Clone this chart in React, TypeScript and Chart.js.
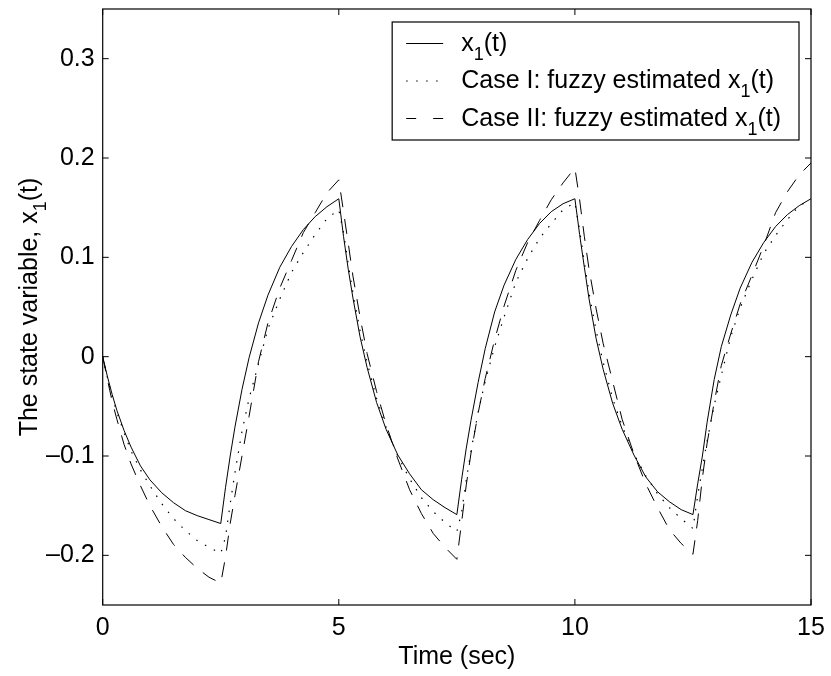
import React, { useEffect, useRef } from 'react';
import { Chart, registerables } from 'chart.js';

Chart.register(...registerables);

// Time samples (sec)
const time = [
  0, 0.1, 0.2, 0.3, 0.45, 0.6, 0.8, 1, 1.25, 1.5, 1.75, 2, 2.25,
  2.5, 2.6, 2.7, 2.8, 2.95, 3.1, 3.3, 3.5, 3.75, 4, 4.25, 4.5, 4.75,
  5, 5.1, 5.2, 5.3, 5.45, 5.6, 5.8, 6, 6.25, 6.5, 6.75, 7, 7.25,
  7.5, 7.6, 7.7, 7.8, 7.95, 8.1, 8.3, 8.5, 8.75, 9, 9.25, 9.5, 9.75,
  10, 10.1, 10.2, 10.3, 10.45, 10.6, 10.8, 11, 11.25, 11.5, 11.75, 12, 12.25,
  12.5, 12.6, 12.7, 12.8, 12.95, 13.1, 13.3, 13.5, 13.75, 14, 14.25, 14.5, 14.75,
  15,
];

// x1(t) actual state
const x1Actual = [
  0, -0.020, -0.038, -0.054, -0.074, -0.091, -0.110, -0.124, -0.137, -0.147, -0.155, -0.160, -0.164,
  -0.168, -0.132, -0.100, -0.071, -0.033, -0.001, 0.034, 0.062, 0.090, 0.111, 0.128, 0.141, 0.151,
  0.159, 0.121, 0.088, 0.059, 0.020, -0.011, -0.046, -0.073, -0.099, -0.118, -0.134, -0.144, -0.152,
  -0.159, -0.124, -0.092, -0.064, -0.026, 0.008, 0.045, 0.072, 0.098, 0.118, 0.134, 0.146, 0.154,
  0.159, 0.123, 0.090, 0.058, 0.018, -0.013, -0.047, -0.073, -0.099, -0.121, -0.136, -0.146, -0.154,
  -0.159, -0.128, -0.100, -0.066, -0.023, 0.010, 0.042, 0.069, 0.095, 0.115, 0.131, 0.143, 0.152,
  0.159,
];

// Case I: fuzzy estimated x1(t)
const x1CaseI = [
  0, -0.021, -0.040, -0.056, -0.076, -0.095, -0.114, -0.130, -0.148, -0.163, -0.175, -0.185, -0.192,
  -0.198, -0.182, -0.148, -0.117, -0.075, -0.042, -0.007, 0.028, 0.058, 0.085, 0.105, 0.123, 0.139,
  0.148, 0.125, 0.093, 0.064, 0.026, -0.006, -0.042, -0.071, -0.100, -0.123, -0.142, -0.156, -0.167,
  -0.176, -0.157, -0.124, -0.095, -0.056, -0.025, 0.010, 0.040, 0.075, 0.099, 0.119, 0.134, 0.148,
  0.155, 0.127, 0.095, 0.064, 0.026, -0.006, -0.042, -0.070, -0.098, -0.120, -0.138, -0.152, -0.163,
  -0.173, -0.140, -0.112, -0.085, -0.049, -0.019, 0.020, 0.049, 0.078, 0.104, 0.122, 0.138, 0.152,
  0.158,
];

// Case II: fuzzy estimated x1(t)
const x1CaseII = [
  0, -0.023, -0.045, -0.063, -0.088, -0.108, -0.130, -0.150, -0.171, -0.189, -0.202, -0.213, -0.222,
  -0.228, -0.202, -0.168, -0.140, -0.100, -0.060, -0.005, 0.034, 0.069, 0.097, 0.125, 0.145, 0.165,
  0.178, 0.146, 0.114, 0.081, 0.040, 0.003, -0.035, -0.068, -0.103, -0.134, -0.158, -0.178, -0.192,
  -0.204, -0.167, -0.129, -0.097, -0.057, -0.022, 0.017, 0.051, 0.087, 0.115, 0.137, 0.158, 0.175,
  0.190, 0.158, 0.121, 0.088, 0.048, 0.013, -0.025, -0.063, -0.098, -0.128, -0.152, -0.174, -0.188,
  -0.199, -0.165, -0.122, -0.087, -0.046, -0.009, 0.023, 0.053, 0.082, 0.112, 0.145, 0.166, 0.183,
  0.195,
];

const xTickValues = [0, 5, 10, 15];
const yTickValues = [-0.2, -0.1, 0, 0.1, 0.2, 0.3];
const seriesLabels = ['x_1(t)', 'Case I: fuzzy estimated x_1(t)', 'Case II: fuzzy estimated x_1(t)'];
const xTitle = 'Time (sec)';
const yTitle = 'The state variable, x_1(t)';

const FONT_FAMILY = "'Liberation Sans', Arial, Helvetica, sans-serif";
const MAIN_SIZE = 25;
const SUB_SIZE = 18;
const SUB_DROP = 9;

type Part = { text: string; sub: boolean };

function richParts(s: string): Part[] {
  const parts: Part[] = [];
  const re = /_(\w)/g;
  let last = 0;
  let m: RegExpExecArray | null;
  while ((m = re.exec(s))) {
    if (m.index > last) parts.push({ text: s.slice(last, m.index), sub: false });
    parts.push({ text: m[1], sub: true });
    last = re.lastIndex;
  }
  if (last < s.length) parts.push({ text: s.slice(last), sub: false });
  return parts;
}

function setFont(ctx: CanvasRenderingContext2D, sub: boolean) {
  ctx.font = `${sub ? SUB_SIZE : MAIN_SIZE}px ${FONT_FAMILY}`;
}

function measureRich(ctx: CanvasRenderingContext2D, s: string): number {
  let w = 0;
  for (const p of richParts(s)) {
    setFont(ctx, p.sub);
    w += ctx.measureText(p.text).width;
  }
  return w;
}

function drawRich(ctx: CanvasRenderingContext2D, s: string, x: number, y: number) {
  let cx = x;
  ctx.textAlign = 'left';
  ctx.textBaseline = 'alphabetic';
  for (const p of richParts(s)) {
    setFont(ctx, p.sub);
    ctx.fillText(p.text, cx, p.sub ? y + SUB_DROP : y);
    cx += ctx.measureText(p.text).width;
  }
}

const legendDashes: number[][] = [[], [1.5, 8.5], [10, 17]];

const matlabFrame = {
  id: 'matlabFrame',
  afterDatasetsDraw(chart: any) {
    const { ctx, chartArea: a, scales } = chart;
    const xs = scales.x;
    const ys = scales.y;
    ctx.save();
    ctx.fillStyle = '#000';
    ctx.strokeStyle = '#000';
    ctx.setLineDash([]);

    // axes box
    ctx.lineWidth = 1.2;
    ctx.strokeRect(a.left, a.top, a.right - a.left, a.bottom - a.top);

    // inward ticks on all four sides
    const tl = 6;
    ctx.lineWidth = 1;
    ctx.beginPath();
    xTickValues.forEach((v) => {
      const p = xs.getPixelForValue(v);
      ctx.moveTo(p, a.bottom);
      ctx.lineTo(p, a.bottom - tl);
      ctx.moveTo(p, a.top);
      ctx.lineTo(p, a.top + tl);
    });
    yTickValues.forEach((v) => {
      const p = ys.getPixelForValue(v);
      ctx.moveTo(a.left, p);
      ctx.lineTo(a.left + tl, p);
      ctx.moveTo(a.right, p);
      ctx.lineTo(a.right - tl, p);
    });
    ctx.stroke();

    // legend
    const padL = 14;
    const sampleLen = 37;
    const gap = 18;
    const padR = 18;
    const maxW = Math.max(...seriesLabels.map((s) => measureRich(ctx, s)));
    const boxW = padL + sampleLen + gap + maxW + padR;
    const boxRight = a.right - 12;
    const boxLeft = boxRight - boxW;
    const boxTop = a.top + 13;
    const rowH = 37.5;
    const boxH = 118;
    ctx.fillStyle = '#fff';
    ctx.fillRect(boxLeft, boxTop, boxW, boxH);
    ctx.lineWidth = 1.2;
    ctx.strokeStyle = '#000';
    ctx.strokeRect(boxLeft, boxTop, boxW, boxH);
    ctx.fillStyle = '#000';
    seriesLabels.forEach((label, i) => {
      const sy = boxTop + 21.5 + i * rowH;
      ctx.save();
      ctx.lineWidth = 1;
      ctx.setLineDash(legendDashes[i]);
      ctx.beginPath();
      ctx.moveTo(boxLeft + padL, sy);
      ctx.lineTo(boxLeft + padL + sampleLen, sy);
      ctx.stroke();
      ctx.restore();
      drawRich(ctx, label, boxLeft + padL + sampleLen + gap, sy + 7);
    });

    // x axis title
    const xw = measureRich(ctx, xTitle);
    drawRich(ctx, xTitle, (a.left + a.right) / 2 - xw / 2, 664);

    // y axis title (rotated)
    const yw = measureRich(ctx, yTitle);
    ctx.save();
    ctx.translate(37, (a.top + a.bottom) / 2);
    ctx.rotate(-Math.PI / 2);
    drawRich(ctx, yTitle, -yw / 2, 0);
    ctx.restore();

    ctx.restore();
  },
};

function formatY(v: number): string {
  if (Math.abs(v) < 1e-9) return '0';
  const s = Math.abs(v).toFixed(1);
  return v < 0 ? '\u2013' + s : s;
}

export default function App() {
  const canvasRef = useRef<HTMLCanvasElement | null>(null);

  useEffect(() => {
    document.body.style.margin = '0';
    const canvas = canvasRef.current;
    if (!canvas) return;
    const mk = (arr: number[]) => time.map((t, i) => ({ x: t, y: arr[i] }));
    const tickFont = { family: FONT_FAMILY, size: MAIN_SIZE };
    const chart = new Chart(canvas, {
      type: 'line',
      data: {
        datasets: [
          {
            label: 'x1(t)',
            data: mk(x1Actual),
            borderColor: '#000',
            borderWidth: 1,
            pointRadius: 0,
            fill: false,
            tension: 0,
          },
          {
            label: 'Case I: fuzzy estimated x1(t)',
            data: mk(x1CaseI),
            borderColor: '#000',
            borderWidth: 1.2,
            borderDash: [1.5, 8.5],
            pointRadius: 0,
            fill: false,
            tension: 0,
          },
          {
            label: 'Case II: fuzzy estimated x1(t)',
            data: mk(x1CaseII),
            borderColor: '#000',
            borderWidth: 1,
            borderDash: [15, 12],
            pointRadius: 0,
            fill: false,
            tension: 0,
          },
        ],
      },
      options: {
        responsive: false,
        animation: false,
        devicePixelRatio: 1,
        layout: { padding: { left: 0, top: 9, right: 20, bottom: 0 } },
        plugins: {
          legend: { display: false },
          tooltip: { enabled: false },
          title: { display: false },
        },
        scales: {
          x: {
            type: 'linear',
            min: 0,
            max: 15,
            afterBuildTicks: (s: any) => {
              s.ticks = xTickValues.map((v) => ({ value: v }));
            },
            afterFit: (s: any) => {
              s.height = 71;
              s.paddingLeft = 0;
              s.paddingRight = 0;
            },
            grid: { display: false, drawTicks: false },
            border: { display: false },
            ticks: {
              color: '#000',
              font: tickFont,
              padding: 8,
              maxRotation: 0,
              autoSkip: false,
              callback: (v: any) => String(v),
            },
          },
          y: {
            type: 'linear',
            min: -0.25,
            max: 0.35,
            afterBuildTicks: (s: any) => {
              s.ticks = yTickValues.map((v) => ({ value: v }));
            },
            afterFit: (s: any) => {
              s.width = 102.7;
              s.paddingTop = 0;
              s.paddingBottom = 0;
            },
            grid: { display: false, drawTicks: false },
            border: { display: false },
            ticks: {
              color: '#000',
              font: tickFont,
              padding: 8,
              autoSkip: false,
              callback: (v: any) => formatY(Number(v)),
            },
          },
        },
      },
      plugins: [matlabFrame],
    } as any);
    return () => chart.destroy();
  }, []);

  return (
    <div style={{ width: 831, height: 676, background: '#fff' }}>
      <canvas ref={canvasRef} width={831} height={676} style={{ display: 'block' }} />
    </div>
  );
}
